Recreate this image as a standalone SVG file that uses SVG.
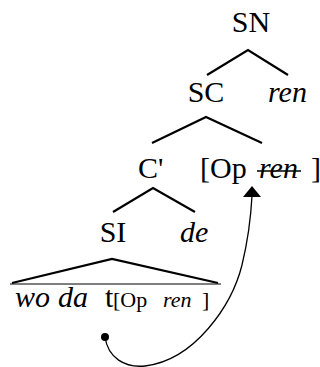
<svg xmlns="http://www.w3.org/2000/svg" width="320" height="367" viewBox="0 0 320 367">
<style>
text{font-family:"Liberation Serif","Times New Roman",serif;font-size:30px;fill:#000}
.it{font-style:italic}
.sm{font-size:22px}
.br{stroke:#000;stroke-width:2.2;fill:none;stroke-linecap:butt}
.thin{stroke:#000;stroke-width:1.3;fill:none}
</style>
<g id="SN"><text x="251" y="32" text-anchor="middle">SN</text></g>
<g id="SC"><text x="206" y="102" text-anchor="middle">SC</text></g>
<g id="ren1"><text x="268" y="102" class="it">ren</text></g>
<g id="Cbar"><text x="138" y="178">C'</text></g>
<g id="Op"><text x="200" y="178">[Op</text><text x="259" y="178" class="it">ren</text><text x="311" y="178">]</text><line x1="257" y1="171" x2="301" y2="171" class="thin" stroke-width="1.5"/></g>
<g id="SI"><text x="113" y="242" text-anchor="middle">SI</text></g>
<g id="de"><text x="180" y="242" class="it">de</text></g>
<g id="wo_da"><text x="15" y="307" class="it">wo</text><text x="58" y="307" class="it">da</text></g>
<g id="trace"><text x="105" y="307">t</text><text x="113" y="307" class="sm">[Op</text><text x="163" y="307" class="sm it">ren</text><text x="202" y="307" class="sm">]</text></g>
<g id="connectors">
<polyline class="br" points="207,75 248,50 288,75"/>
<polyline class="br" points="152,143 206,117 262,143"/>
<polyline class="br" points="113,212 153,188 195,212"/>
<polyline class="br" points="12,283 112,259 218,283"/>
<line x1="10" y1="284" x2="221" y2="284" stroke="#000" stroke-width="1.2"/>
<circle cx="105" cy="337" r="4" fill="#000"/>
<path class="thin" d="M105,337 C108,358 125,368 145,366 C195,360 232,305 242,265 C248,240 251,215 252,196"/>
<polygon points="252,186 243,197 261,197" fill="#000"/>
</g>
</svg>
